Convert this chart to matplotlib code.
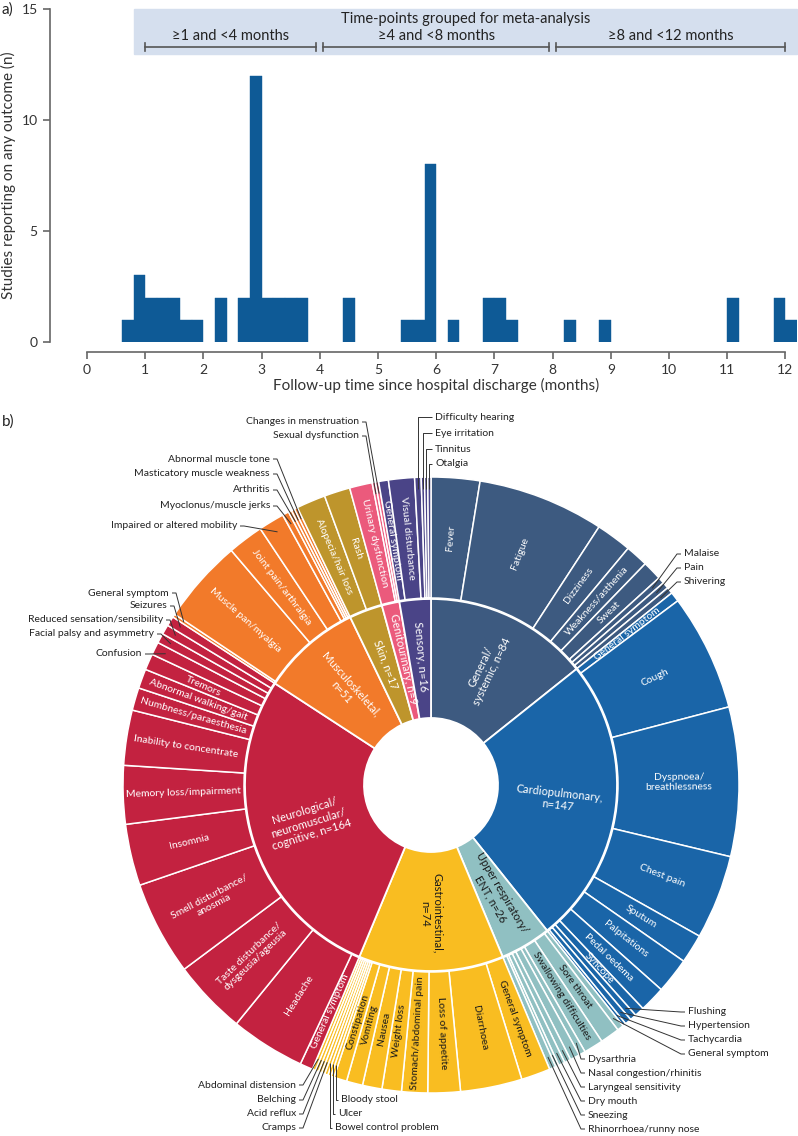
import numpy as np
import matplotlib.pyplot as plt

plt.rcParams['font.family'] = ['Lato', 'DejaVu Sans']

# ---- a) follow-up time histogram (bins of 0.2 months) ----
bin_left = [0.6, 0.8, 1.0, 1.2, 1.4, 1.6, 1.8, 2.2, 2.6, 2.8, 3.0, 3.2, 3.4, 3.6,
            4.4, 5.4, 5.6, 5.8, 6.2, 6.8, 7.0, 7.2, 8.2, 8.8, 11.0, 11.8, 12.0]
bin_count = [1, 3, 2, 2, 2, 1, 1, 2, 2, 12, 2, 2, 2, 2,
             2, 1, 1, 8, 1, 2, 2, 1, 1, 1, 2, 2, 1]
group_labels = ["≥1 and <4 months", "≥4 and <8 months", "≥8 and <12 months"]
group_start = [1.0, 4.06, 8.06]
group_end = [3.94, 7.94, 12.0]

# ---- b) sunburst of symptoms ----
cat_labels = ["General/\nsystemic, n=84", "Cardiopulmonary,\nn=147", "Upper respiratory/\nENT, n=26",
              "Gastrointestinal,\nn=74", "Neurological/\nneuromuscular/\ncognitive, n=164",
              "Musculoskeletal,\nn=51", "Skin, n=17", "Genitourinary, n=9", "Sensory, n=16"]
cat_n = [84, 147, 26, 74, 164, 51, 17, 9, 16]

general_sym = ["Fever", "Fatigue", "Dizziness", "Weakness/asthenia", "Sweat", "Malaise", "Pain", "Shivering"]
general_n = [15, 39, 11, 7, 6, 2, 2, 2]
cardio_sym = ["General symptom", "Cough", "Dyspnoea/\nbreathlessness", "Chest pain", "Sputum", "Palpitations",
              "Pedal oedema", "Syncope", "Flushing", "Hypertension", "Tachycardia"]
cardio_n = [3, 36, 46, 26, 9, 11, 8, 3, 2, 2, 1]
upper_sym = ["General symptom", "Sore throat", "Swallowing difficulties", "Dysarthria", "Nasal congestion/rhinitis",
             "Laryngeal sensitivity", "Dry mouth", "Sneezing", "Rhinorrhoea/runny nose"]
upper_n = [2, 6, 6, 2, 3, 2, 2, 1, 2]
gi_sym = ["General symptom", "Diarrhoea", "Loss of appetite", "Stomach/abdominal pain", "Weight loss", "Nausea",
          "Vomiting", "Constipation", "Bloody stool", "Ulcer", "Bowel control problem", "Cramps", "Acid reflux",
          "Belching", "Abdominal distension"]
gi_n = [9, 19, 10, 8, 6, 6, 5, 4, 1, 1, 1, 1, 1, 1, 1]
neuro_sym = ["General symptom", "Headache", "Taste disturbance/\ndysgeusia/ageusia", "Smell disturbance/\nanosmia",
             "Insomnia", "Memory loss/impairment", "Inability to concentrate", "Numbness/paraesthesia",
             "Abnormal walking/gait", "Tremors", "Confusion", "Facial palsy and asymmetry",
             "Reduced sensation/sensibility", "Seizures"]
neuro_n = [4, 23, 23, 29, 19, 18, 17, 7, 6, 5, 4, 3, 3, 3]
musc_sym = ["General symptom", "Muscle pan/myalgia", "Joint pain/arthralgia", "Impaired or altered mobility",
            "Myoclonus/muscle jerks", "Arthritis", "Masticatory muscle weakness", "Abnormal muscle tone"]
musc_n = [1, 26, 11, 8, 2, 1, 1, 1]
skin_sym = ["Alopecia/hair loss", "Rash"]
skin_n = [9, 8]
gu_sym = ["Urinary dysfunction", "Sexual dysfunction", "Changes in menstruation"]
gu_n = [7, 1, 1]
sensory_sym = ["General symptom", "Visual disturbance", "Difficulty hearing", "Eye irritation", "Tinnitus", "Otalgia"]
sensory_n = [3, 8, 2, 1, 1, 1]

symptoms = [general_sym, cardio_sym, upper_sym, gi_sym, neuro_sym, musc_sym, skin_sym, gu_sym, sensory_sym]
sym_counts = [general_n, cardio_n, upper_n, gi_n, neuro_n, musc_n, skin_n, gu_n, sensory_n]

cat_colors = ['#3D5A80', '#1A65A8', '#90C0C2', '#F9BD21', '#C32240', '#F27A2A', '#BE952C', '#EB5A7C', '#4A4487']
cat_text = ['white', 'white', '#1a1a1a', '#1a1a1a', 'white', 'white', 'white', 'white', 'white']

# labels placed outside the ring: (category, symptom) -> text x, y (pixels), alignment, leader style
ext = {
    (7, "Changes in menstruation"): (360, 422, 'right', 'd'),
    (7, "Sexual dysfunction"): (360, 436, 'right', 'd'),
    (5, "Abnormal muscle tone"): (271, 459, 'right', 'd'),
    (5, "Masticatory muscle weakness"): (271, 474, 'right', 'd'),
    (5, "Arthritis"): (271, 490, 'right', 'd'),
    (5, "Myoclonus/muscle jerks"): (271, 506, 'right', 'd'),
    (5, "Impaired or altered mobility"): (238, 526, 'right', 'd'),
    (5, "General symptom"): (170, 593, 'right', 'd'),
    (4, "Seizures"): (168, 606, 'right', 'd'),
    (4, "Reduced sensation/sensibility"): (164, 620, 'right', 'd'),
    (4, "Facial palsy and asymmetry"): (155, 634, 'right', 'd'),
    (4, "Confusion"): (143, 654, 'right', 'd'),
    (8, "Difficulty hearing"): (434, 417, 'left', 'v'),
    (8, "Eye irritation"): (434, 433, 'left', 'v'),
    (8, "Tinnitus"): (434, 449, 'left', 'v'),
    (8, "Otalgia"): (434, 464, 'left', 'v'),
    (0, "Malaise"): (683, 554, 'left', 'd'),
    (0, "Pain"): (683, 568, 'left', 'd'),
    (0, "Shivering"): (683, 582, 'left', 'd'),
    (1, "Flushing"): (687, 1012, 'left', 'd'),
    (1, "Hypertension"): (687, 1026, 'left', 'd'),
    (1, "Tachycardia"): (687, 1040, 'left', 'd'),
    (2, "General symptom"): (687, 1054, 'left', 'd'),
    (2, "Dysarthria"): (587, 1059, 'left', 'd'),
    (2, "Nasal congestion/rhinitis"): (587, 1073, 'left', 'd'),
    (2, "Laryngeal sensitivity"): (587, 1087, 'left', 'd'),
    (2, "Dry mouth"): (587, 1101, 'left', 'd'),
    (2, "Sneezing"): (587, 1115, 'left', 'd'),
    (2, "Rhinorrhoea/runny nose"): (587, 1129, 'left', 'd'),
    (3, "Abdominal distension"): (297, 1085, 'right', 'd'),
    (3, "Belching"): (297, 1100, 'right', 'd'),
    (3, "Acid reflux"): (297, 1114, 'right', 'd'),
    (3, "Cramps"): (297, 1128, 'right', 'd'),
    (3, "Bloody stool"): (340, 1100, 'left', 'v'),
    (3, "Ulcer"): (337, 1114, 'left', 'v'),
    (3, "Bowel control problem"): (334, 1128, 'left', 'v'),
}

W, H = 798, 1136
CX, CY = 431, 785
R_HOLE, R_MID, R_OUT = 67, 186, 308

fig = plt.figure(figsize=(W / 100, H / 100), dpi=100)

# ---------- sunburst ----------
axs = fig.add_axes([0, 0, 1, 1])
outer_n = [v for lst in sym_counts for v in lst]
outer_col = [cat_colors[i] for i, lst in enumerate(sym_counts) for _ in lst]
axs.pie(cat_n, radius=R_MID, center=(CX, H - CY), startangle=90, counterclock=False,
        colors=cat_colors, wedgeprops=dict(width=R_MID - R_HOLE, edgecolor='white', linewidth=1.3))
axs.pie(outer_n, radius=R_OUT, center=(CX, H - CY), startangle=90, counterclock=False,
        colors=outer_col, wedgeprops=dict(width=R_OUT - R_MID - 1, edgecolor='white', linewidth=1.1))
axs.set_xlim(0, W)
axs.set_ylim(0, H)
axs.set_aspect('equal')
axs.axis('off')

total = sum(cat_n)


def polar(theta, r):
    t = np.radians(theta)
    return CX + r * np.sin(t), H - (CY - r * np.cos(t))


def radial_text(theta, r, s, color, fs):
    x, y = polar(theta, r)
    rot = ((90 - theta) + 90) % 180 - 90
    axs.text(x, y, s, rotation=rot, rotation_mode='anchor', ha='center', va='center',
             multialignment='center', color=color, fontsize=fs, linespacing=1.15)


start = 0
for i, n in enumerate(cat_n):
    mid = 360 * (start + n / 2) / total
    radial_text(mid, (R_HOLE + R_MID) / 2 + 2, cat_labels[i], cat_text[i], 8)
    start += n

start = 0
for i, (names, counts) in enumerate(zip(symptoms, sym_counts)):
    for name, c in zip(names, counts):
        mid = 360 * (start + c / 2) / total
        start += c
        key = (i, name)
        if key in ext:
            tx, ty, ha, mode = ext[key]
            ax_, ay_ = polar(mid, 296)
            ty_d = H - ty
            if mode == 'v':
                xs = [ax_, ax_, tx - 2]
                ys = [ay_, ty_d, ty_d]
            else:
                ex = tx + 6 if ha == 'right' else tx - 6
                xs = [ax_, ex, tx + (2 if ha == 'right' else -2)]
                ys = [ay_, ty_d, ty_d]
            axs.plot(xs, ys, color='#333333', lw=0.7, solid_capstyle='butt')
            axs.text(tx + (-1 if ha == 'right' else 1), ty_d, name, ha=ha, va='center',
                     fontsize=7.5, color='#222222')
        else:
            radial_text(mid, (R_MID + R_OUT) / 2 + 1, name, cat_text[i], 7.5)

# ---------- histogram ----------
ax = fig.add_axes([87 / W, 1 - 342 / H, 710 / W, 333 / H])
ax.patch.set_alpha(0)
ax.bar(bin_left, bin_count, width=0.2, align='edge', color='#0E5A96', edgecolor='#0E5A96', linewidth=0.3)
ax.set_xlim(0, 12.2)
ax.set_ylim(0, 15)

ax.add_patch(plt.Rectangle((0.8, 12.97), 11.4, 2.03, color='#D5DFEE', zorder=0, clip_on=False))
ax.text(6.51, 14.55, "Time-points grouped for meta-analysis", ha='center', va='center', fontsize=10.5, color='#222222')
for lab, s, e in zip(group_labels, group_start, group_end):
    ax.plot([s, e], [13.3, 13.3], color='#555555', lw=1.2)
    ax.plot([s, s], [13.12, 13.48], color='#555555', lw=1.2)
    ax.plot([e, e], [13.12, 13.48], color='#555555', lw=1.2)
    ax.text((s + e) / 2, 13.78, lab, ha='center', va='center', fontsize=10.5, color='#222222')

for side in ['top', 'right']:
    ax.spines[side].set_visible(False)
for side in ['left', 'bottom']:
    ax.spines[side].set_color('#666666')
    ax.spines[side].set_linewidth(1.2)
ax.spines['left'].set_position(('outward', 27))
ax.spines['bottom'].set_position(('outward', 7))
ax.spines['left'].set_bounds(0, 15)
ax.spines['bottom'].set_bounds(0, 12)
ax.set_xticks(range(13))
ax.set_yticks([0, 5, 10, 15])
ax.tick_params(colors='#666666', labelcolor='#333333', labelsize=10, length=5, width=1.2)
ax.set_xlabel("Follow-up time since hospital discharge (months)", fontsize=11, color='#333333')
ax.set_ylabel("Studies reporting on any outcome (n)", fontsize=11, color='#333333')
ax.xaxis.set_label_coords(6 / 12.2, -0.108)
ax.yaxis.set_label_coords(-0.10, 0.5)

fig.text(2 / W, 1 - 10 / H, "a)", fontsize=11, va='center', ha='left', color='#222222')
fig.text(2 / W, 1 - 422 / H, "b)", fontsize=11, va='center', ha='left', color='#222222')

fig.savefig('out.png', dpi=100)
